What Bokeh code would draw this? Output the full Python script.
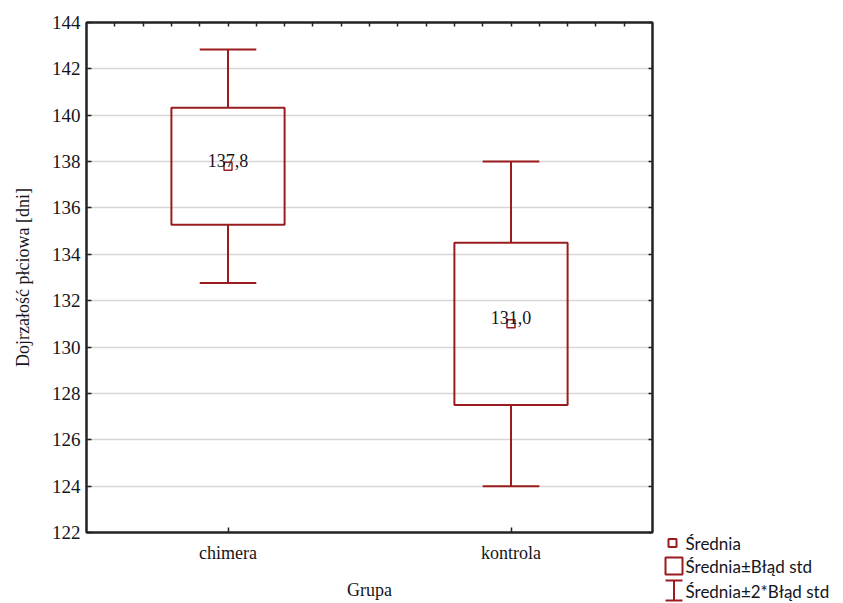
from bokeh.plotting import figure
from bokeh.models import (Range1d, LinearAxis, FixedTicker, CustomJSTickFormatter,
                          ColumnDataSource, Grid, Spacer)
from bokeh.layouts import row, column
from bokeh.embed import file_html
from bokeh.resources import INLINE
from bokeh.core.properties import value

# ---- data ----
groups = ["chimera", "kontrola"]
means = [137.8, 131.0]
std_errors = [2.52, 3.5]
mean_labels = ["137,8", "131,0"]
y_ticks = [122, 124, 126, 128, 130, 132, 134, 136, 138, 140, 142, 144]
x_label = "Grupa"
y_label = "Dojrzałość płciowa [dni]"
legend_labels = ["Średnia", "Średnia±Błąd std", "Średnia±2*Błąd std"]

RED = "#9b1c1f"
SERIF = "Liberation Serif"
SANS = "Lato"
TXT = "#151520"

xs = list(range(len(groups)))
BOX_HALF = 0.2
CAP_HALF = 0.1
src = ColumnDataSource(dict(
    x=xs,
    mean=means,
    label=mean_labels,
    lo1=[m - s for m, s in zip(means, std_errors)],
    hi1=[m + s for m, s in zip(means, std_errors)],
    lo2=[m - 2 * s for m, s in zip(means, std_errors)],
    hi2=[m + 2 * s for m, s in zip(means, std_errors)],
    bl=[x - BOX_HALF for x in xs],
    br=[x + BOX_HALF for x in xs],
    cl=[x - CAP_HALF for x in xs],
    cr=[x + CAP_HALF for x in xs],
))

p = figure(frame_width=566, frame_height=510,
           min_border_left=86, min_border_right=9, min_border_top=22, min_border_bottom=71,
           x_range=Range1d(-0.5, len(groups) - 0.5), y_range=Range1d(y_ticks[0], y_ticks[-1]),
           output_backend="svg", toolbar_location=None,
           x_axis_location=None, y_axis_location=None)
p.outline_line_color = "#222222"
p.outline_line_width = 2
p.background_fill_color = "white"
p.border_fill_color = "white"
p.center = [c for c in p.center if not isinstance(c, Grid)]

grid = Grid(dimension=1, ticker=FixedTicker(ticks=y_ticks[1:-1]),
            grid_line_color="#d6d6d6", grid_line_width=1.5)
p.add_layout(grid)

def style_axis(ax):
    ax.axis_line_color = "#222222"
    ax.axis_line_width = 2
    ax.major_tick_line_color = "#222222"
    ax.major_tick_line_width = 1.5
    ax.major_tick_out = 0
    ax.minor_tick_line_color = None
    ax.major_label_text_font = SERIF
    ax.major_label_text_font_size = "18px"
    ax.major_label_text_color = TXT
    ax.axis_label_text_font = SERIF
    ax.axis_label_text_font_size = "18px"
    ax.axis_label_text_font_style = "normal"
    ax.axis_label_text_color = TXT

left = LinearAxis(ticker=FixedTicker(ticks=y_ticks, minor_ticks=[]), axis_label=y_label)
style_axis(left)
left.major_label_text_font_size = "19px"
left.major_tick_in = 5
left.major_label_standoff = 6
left.axis_label_standoff = 16
p.add_layout(left, "left")

right = LinearAxis(ticker=FixedTicker(ticks=y_ticks, minor_ticks=[]))
style_axis(right)
right.major_tick_in = 4
right.major_label_standoff = 0
right.formatter = CustomJSTickFormatter(code="return ''")
p.add_layout(right, "right")

bottom = LinearAxis(ticker=FixedTicker(ticks=xs, minor_ticks=[]), axis_label=x_label,
                    formatter=CustomJSTickFormatter(args=dict(names=groups),
                                                    code="return names[Math.round(tick)] || ''"))
style_axis(bottom)
bottom.major_tick_in = 5
bottom.major_label_standoff = 10
bottom.axis_label_standoff = 14
p.add_layout(bottom, "below")

top_ticks = [round(-0.4 + 0.1 * i, 2) for i in range(19)]
top = LinearAxis(ticker=FixedTicker(ticks=top_ticks, minor_ticks=[]))
style_axis(top)
top.major_tick_in = 4
top.major_label_standoff = 0
top.formatter = CustomJSTickFormatter(code="return ''")
p.add_layout(top, "above")

p.segment(x0="x", y0="hi1", x1="x", y1="hi2", source=src, line_color=RED, line_width=2)
p.segment(x0="x", y0="lo1", x1="x", y1="lo2", source=src, line_color=RED, line_width=2)
p.segment(x0="cl", y0="hi2", x1="cr", y1="hi2", source=src, line_color=RED, line_width=2)
p.segment(x0="cl", y0="lo2", x1="cr", y1="lo2", source=src, line_color=RED, line_width=2)
p.quad(left="bl", right="br", bottom="lo1", top="hi1", source=src,
       fill_color="white", fill_alpha=0, line_color=RED, line_width=2)
p.scatter(x="x", y="mean", source=src, marker="square", size=8,
          fill_color="white", line_color=RED, line_width=1.5)
p.text(x="x", y="mean", text="label", source=src, text_align="center",
       text_baseline="alphabetic", y_offset=-6, text_font=value(SERIF),
       text_font_size="18px", text_color=TXT)

# ---- legend panel (pixel-like coordinates, y downwards) ----
lg = figure(width=182, height=73, x_range=Range1d(0, 182), y_range=Range1d(73, 0),
            output_backend="svg", toolbar_location=None,
            x_axis_location=None, y_axis_location=None, min_border=0)
lg.outline_line_color = None
lg.center = [c for c in lg.center if not isinstance(c, Grid)]
lg.scatter(x=[11], y=[12.5], marker="square", size=8, fill_color="white",
           line_color=RED, line_width=2)
lg.quad(left=[4], right=[21], top=[27], bottom=[44], fill_color="white",
        line_color=RED, line_width=2)
lg.segment(x0=[4, 4, 12.5], y0=[50, 70, 50], x1=[21, 21, 12.5], y1=[50, 70, 70],
           line_color=RED, line_width=2)
lg.text(x=[24, 24, 24], y=[13, 36, 61], text=legend_labels, text_font=value(SANS),
        text_font_size="17px", text_color=TXT, text_baseline="middle", text_align="left")

layout = row(p, column(Spacer(width=182, height=530), lg, spacing=0), spacing=0)

open("out.html", "w").write(file_html(layout, INLINE))
